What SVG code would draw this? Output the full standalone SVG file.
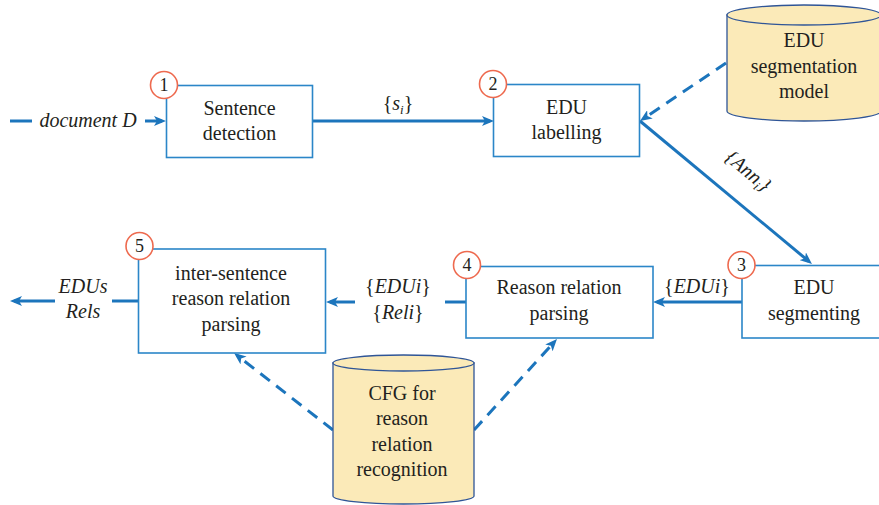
<svg xmlns="http://www.w3.org/2000/svg" width="879" height="505" viewBox="0 0 879 505">
  <style>
    .box { fill: #ffffff; stroke: #2b86c8; stroke-width: 1.6; }
    .db { fill: #fbeab8; stroke: #2f5597; stroke-width: 1.3; }
    .badge { fill: #ffffff; stroke: #ee6a4f; stroke-width: 1.6; }
    .flow { fill: none; stroke: #1c75bc; stroke-width: 3; }
    .dash { fill: none; stroke: #1c75bc; stroke-width: 3; stroke-dasharray: 12 8; }
    text { font-family: "Liberation Serif", "Times New Roman", serif; font-size: 20px; fill: #231f20; text-anchor: middle; }
    .num { font-size: 18px; }
    .it { font-style: italic; }
  </style>
  <defs>
    <marker id="arrow" viewBox="0 0 12 10" refX="8" refY="5" markerWidth="12" markerHeight="10" markerUnits="userSpaceOnUse" orient="auto">
      <path d="M0,0 L12,5 L0,10 L3,5 z" fill="#1c75bc"/>
    </marker>
  </defs>

  <!-- connectors -->
  <g id="connectors">
    <line class="flow" x1="10" y1="121" x2="32" y2="121"/>
    <line class="flow" x1="145" y1="121" x2="162" y2="121" marker-end="url(#arrow)"/>
    <line class="flow" x1="312" y1="121" x2="490" y2="121" marker-end="url(#arrow)"/>
    <line class="dash" x1="726" y1="63" x2="643.3" y2="118.8" marker-end="url(#arrow)"/>
    <line class="flow" x1="640" y1="121" x2="808.9" y2="261.4" marker-end="url(#arrow)"/>
    <line class="flow" x1="742" y1="302" x2="657" y2="302" marker-end="url(#arrow)"/>
    <line class="flow" x1="466" y1="302" x2="445" y2="302"/>
    <line class="flow" x1="355" y1="302" x2="330" y2="302" marker-end="url(#arrow)"/>
    <line class="flow" x1="138" y1="301" x2="112" y2="301"/>
    <line class="flow" x1="55" y1="301" x2="14" y2="301" marker-end="url(#arrow)"/>
    <line class="dash" x1="333" y1="430" x2="237.2" y2="355.5" marker-end="url(#arrow)"/>
    <line class="dash" x1="474" y1="430" x2="554.3" y2="342" marker-end="url(#arrow)"/>

    <!-- connector labels -->
    <text x="88" y="127" class="it">document D</text>
    <text x="398" y="110">{<tspan class="it">s</tspan><tspan class="it" font-size="13" dy="4">i</tspan><tspan dy="-4">}</tspan></text>
    <text class="it" transform="translate(744 176) rotate(39.7)">{Ann<tspan font-size="13" dy="4">i</tspan><tspan dy="-4">}</tspan></text>
    <text x="697" y="293">{<tspan class="it">EDUi</tspan>}</text>
    <text x="398" y="293">{<tspan class="it">EDUi</tspan>}</text>
    <text x="398" y="319">{<tspan class="it">Reli</tspan>}</text>
    <text x="83" y="293" class="it">EDUs</text>
    <text x="83" y="318" class="it">Rels</text>
  </g>

  <!-- step 1 -->
  <g id="sentence-detection">
    <rect class="box" x="166.5" y="85.5" width="146" height="72"/>
    <text x="239.5" y="115">Sentence</text>
    <text x="239.5" y="140">detection</text>
    <circle class="badge" cx="164" cy="85" r="13.5"/>
    <text class="num" x="164" y="91">1</text>
  </g>

  <!-- step 2 -->
  <g id="edu-labelling">
    <rect class="box" x="493.5" y="84.5" width="146" height="72"/>
    <text x="566.5" y="114">EDU</text>
    <text x="566.5" y="139">labelling</text>
    <circle class="badge" cx="493" cy="84" r="13.5"/>
    <text class="num" x="493" y="90">2</text>
  </g>

  <!-- segmentation model store -->
  <g id="edu-segmentation-model">
    <path class="db" d="M727,15 L727,111 A77,10 0 0 0 881,111 L881,15 Z"/>
    <ellipse class="db" cx="804" cy="15" rx="77" ry="10"/>
    <text x="804" y="47">EDU</text>
    <text x="804" y="73">segmentation</text>
    <text x="804" y="98">model</text>
  </g>

  <!-- step 3 -->
  <g id="edu-segmenting">
    <rect class="box" x="742" y="265.5" width="146" height="72.5"/>
    <text x="814" y="294">EDU</text>
    <text x="814" y="320">segmenting</text>
    <circle class="badge" cx="741.5" cy="265" r="13.5"/>
    <text class="num" x="741.5" y="271">3</text>
  </g>

  <!-- step 4 -->
  <g id="reason-relation-parsing">
    <rect class="box" x="466" y="266.5" width="187" height="71.5"/>
    <text x="559" y="294">Reason relation</text>
    <text x="559" y="320">parsing</text>
    <circle class="badge" cx="467" cy="265" r="13.5"/>
    <text class="num" x="467" y="271">4</text>
  </g>

  <!-- step 5 -->
  <g id="inter-sentence-parsing">
    <rect class="box" x="138.5" y="249" width="187" height="104"/>
    <text x="231" y="280">inter-sentence</text>
    <text x="231" y="305">reason relation</text>
    <text x="231" y="331">parsing</text>
    <circle class="badge" cx="139.5" cy="246" r="13.5"/>
    <text class="num" x="139.5" y="252">5</text>
  </g>

  <!-- grammar store -->
  <g id="cfg-store">
    <path class="db" d="M333,363 L333,496 A70.5,8 0 0 0 474,496 L474,363 Z"/>
    <ellipse class="db" cx="403.5" cy="363" rx="70.5" ry="8"/>
    <text x="402" y="400">CFG for</text>
    <text x="402" y="425">reason</text>
    <text x="402" y="451">relation</text>
    <text x="402" y="476">recognition</text>
  </g>
</svg>
